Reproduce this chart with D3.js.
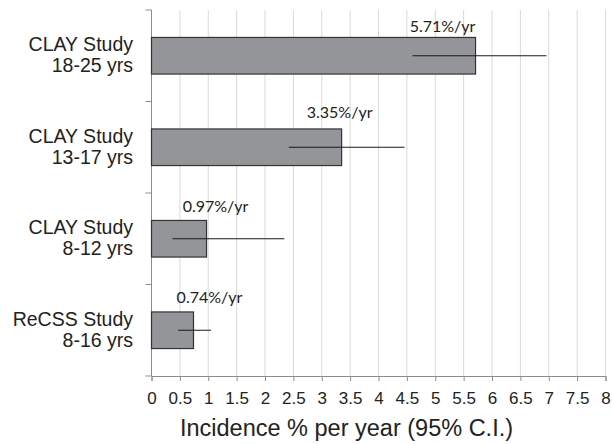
<!DOCTYPE html>
<html>
<head>
<meta charset="utf-8">
<script src="https://cdn.jsdelivr.net/npm/d3@7/dist/d3.min.js"></script>
<style>
  html, body { margin: 0; padding: 0; background: #fff; }
  svg { display: block; }
</style>
</head>
<body>
<script>
// Incidence per year with 95% confidence intervals, by study and age group
const studies   = ["CLAY Study", "CLAY Study", "CLAY Study", "ReCSS Study"];
const ageGroups = ["18-25 yrs", "13-17 yrs", "8-12 yrs", "8-16 yrs"];
const incidence = [5.71, 3.35, 0.97, 0.74];
const ciLow     = [4.60, 2.42, 0.37, 0.47];
const ciHigh    = [6.96, 4.46, 2.34, 1.05];
const xTicks    = [0, 0.5, 1, 1.5, 2, 2.5, 3, 3.5, 4, 4.5, 5, 5.5, 6, 6.5, 7, 7.5, 8];
const xTitle    = "Incidence % per year (95% C.I.)";

const W = 612, H = 444;
const plotLeft = 151.5, plotRight = 605.5, plotTop = 10, plotBottom = 376;

const rows = studies.map((s, i) => ({
  key: i, study: s, age: ageGroups[i],
  value: incidence[i], lo: ciLow[i], hi: ciHigh[i]
}));

const svg = d3.select("body").append("svg")
  .attr("width", W).attr("height", H);

const x = d3.scaleLinear().domain([0, 8]).range([plotLeft, plotRight]);
const y = d3.scaleBand()
  .domain(rows.map(d => d.key))
  .range([plotTop, plotBottom])
  .paddingInner(0.6)
  .paddingOuter(0.3);

// vertical gridlines
svg.append("g")
  .selectAll("line")
  .data(xTicks.filter(t => t > 0))
  .join("line")
  .attr("x1", d => x(d)).attr("x2", d => x(d))
  .attr("y1", plotTop).attr("y2", plotBottom)
  .attr("stroke", "#d9d9d9").attr("stroke-width", 1);

// bottom axis
const xAxis = svg.append("g")
  .attr("transform", `translate(0,${plotBottom})`)
  .call(d3.axisBottom(x).tickValues(xTicks).tickSize(5).tickPadding(11)
    .tickFormat(d3.format("~g")));
xAxis.select(".domain").attr("stroke", "#8c8c8c");
xAxis.selectAll(".tick line").attr("stroke", "#8c8c8c");
xAxis.selectAll(".tick text")
  .attr("fill", "#222")
  .style("font-family", "'Liberation Sans', Arial, sans-serif")
  .style("font-size", "17px");

// left axis line with ticks at band boundaries
const step = y.step();
const bounds = d3.range(rows.length + 1).map(i => plotTop + i * step);
svg.append("line")
  .attr("x1", plotLeft).attr("x2", plotLeft)
  .attr("y1", plotTop).attr("y2", plotBottom)
  .attr("stroke", "#8c8c8c");
svg.append("g").selectAll("line")
  .data(bounds)
  .join("line")
  .attr("x1", plotLeft - 6).attr("x2", plotLeft)
  .attr("y1", d => d).attr("y2", d => d)
  .attr("stroke", "#8c8c8c");

// category labels
const catLabels = svg.append("g")
  .style("font-family", "'Liberation Sans', Arial, sans-serif")
  .style("font-size", "19.5px")
  .attr("fill", "#222")
  .attr("text-anchor", "end");
rows.forEach(d => {
  const cy = y(d.key) + y.bandwidth() / 2;
  catLabels.append("text").attr("x", 133).attr("y", cy - 4.5).text(d.study);
  catLabels.append("text").attr("x", 133).attr("y", cy + 16.5).text(d.age);
});

// bars
svg.append("g").selectAll("rect")
  .data(rows)
  .join("rect")
  .attr("x", x(0))
  .attr("y", d => y(d.key))
  .attr("width", d => x(d.value) - x(0))
  .attr("height", y.bandwidth())
  .attr("fill", "#939598")
  .attr("stroke", "#333")
  .attr("stroke-width", 1.2);

// confidence interval lines
svg.append("g").selectAll("line")
  .data(rows)
  .join("line")
  .attr("x1", d => x(d.lo)).attr("x2", d => x(d.hi))
  .attr("y1", d => y(d.key) + y.bandwidth() / 2)
  .attr("y2", d => y(d.key) + y.bandwidth() / 2)
  .attr("stroke", "#1a1a1a").attr("stroke-width", 1.1);

// value labels, nudged off the bar ends
const labelNudge = [[-33, -5], [-2, -11], [9, -8], [16, -9]];
svg.append("g").selectAll("text")
  .data(rows)
  .join("text")
  .attr("x", d => x(d.value) + labelNudge[d.key][0])
  .attr("y", d => y(d.key) + labelNudge[d.key][1])
  .attr("text-anchor", "middle")
  .attr("fill", "#222")
  .style("font-family", "Lato, 'Open Sans', sans-serif")
  .style("font-size", "16px")
  .text(d => d3.format(".2f")(d.value) + "%/yr");

// axis title
svg.append("text")
  .attr("x", (plotLeft + plotRight) / 2 - 32)
  .attr("y", 435.5)
  .attr("text-anchor", "middle")
  .attr("fill", "#222")
  .style("font-family", "'Liberation Sans', Arial, sans-serif")
  .style("font-size", "23.5px")
  .text(xTitle);
</script>
</body>
</html>
